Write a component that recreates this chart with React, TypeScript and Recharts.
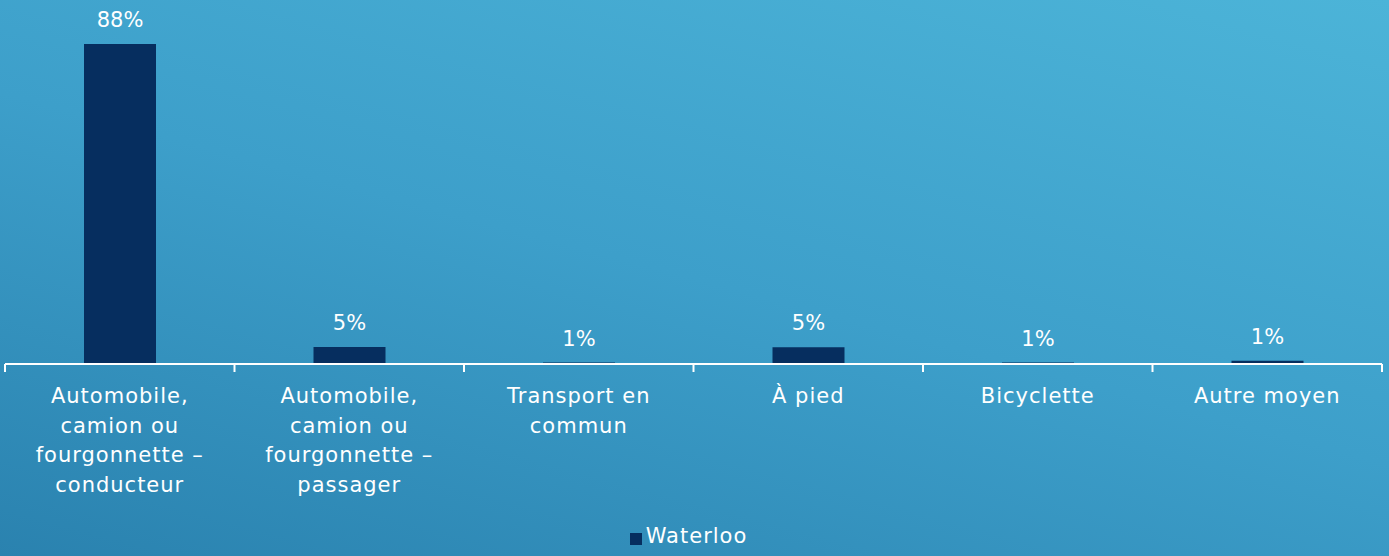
import React from "react";
import { BarChart, Bar, XAxis, YAxis, Legend, LabelList } from "recharts";

const categories = [
  "Automobile, camion ou fourgonnette – conducteur",
  "Automobile, camion ou fourgonnette – passager",
  "Transport en commun",
  "À pied",
  "Bicyclette",
  "Autre moyen",
];
const waterloo = [88, 4.7, 0.4, 4.6, 0.4, 0.9];
const valueLabels = ["88%", "5%", "1%", "5%", "1%", "1%"];

const data = categories.map((name, i) => ({
  name,
  Waterloo: waterloo[i],
  label: valueLabels[i],
}));

const FONT = "'DejaVu Sans', sans-serif";

// break a label into lines of at most 15 characters
function wrap(text: string, max = 15) {
  const lines: string[] = [];
  let cur = "";
  text.split(" ").forEach((w) => {
    const next = cur ? cur + " " + w : w;
    if (next.length > max && cur) {
      lines.push(cur);
      cur = w;
    } else {
      cur = next;
    }
  });
  if (cur) lines.push(cur);
  return lines;
}

const CategoryTick = (props: any) => {
  const { x, y, payload, index, visibleTicksCount } = props;
  const half = payload.offset || 0;
  const lines = wrap(String(payload.value));
  return (
    <g>
      <line x1={x - half} x2={x - half} y1={y} y2={y + 8} stroke="#ffffff" strokeWidth={2} />
      {index === visibleTicksCount - 1 && (
        <line x1={x + half} x2={x + half} y1={y} y2={y + 8} stroke="#ffffff" strokeWidth={2} />
      )}
      <text
        x={x}
        y={y + 39}
        textAnchor="middle"
        fill="#ffffff"
        fontSize={21}
        fontFamily={FONT}
        letterSpacing={1}
      >
        {lines.map((l, i) => (
          <tspan key={i} x={x} dy={i === 0 ? 0 : 29.5}>
            {l}
          </tspan>
        ))}
      </text>
    </g>
  );
};

export default function App() {
  return (
    <div
      style={{
        position: "fixed",
        left: 0,
        top: 0,
        width: 1389,
        height: 556,
        background:
          "linear-gradient(195deg, #4cb4d8 0%, #3d9fca 50%, #2a82af 100%)",
        fontFamily: FONT,
      }}
    >
      <BarChart
        width={1389}
        height={556}
        data={data}
        margin={{ top: 44, right: 7, bottom: 2, left: 5 }}
      >
        <XAxis
          dataKey="name"
          height={154}
          axisLine={{ stroke: "#ffffff", strokeWidth: 2 }}
          tickLine={false}
          tickSize={0}
          tickMargin={0}
          interval={0}
          tick={<CategoryTick />}
        />
        <YAxis hide domain={[0, 88]} />
        <Legend
          verticalAlign="bottom"
          iconType="square"
          iconSize={12}
          wrapperStyle={{ height: 36, lineHeight: "36px" }}
          formatter={(v: string) => (
            <span
              style={{
                color: "#ffffff",
                fontSize: 21,
                fontFamily: FONT,
                letterSpacing: 1,
              }}
            >
              {v}
            </span>
          )}
        />
        <Bar
          dataKey="Waterloo"
          fill="#062e5f"
          barSize={72}
          isAnimationActive={false}
        >
          <LabelList
            dataKey="label"
            position="top"
            offset={17}
            fill="#ffffff"
            fontSize={21}
            fontFamily={FONT}
          />
        </Bar>
      </BarChart>
    </div>
  );
}
